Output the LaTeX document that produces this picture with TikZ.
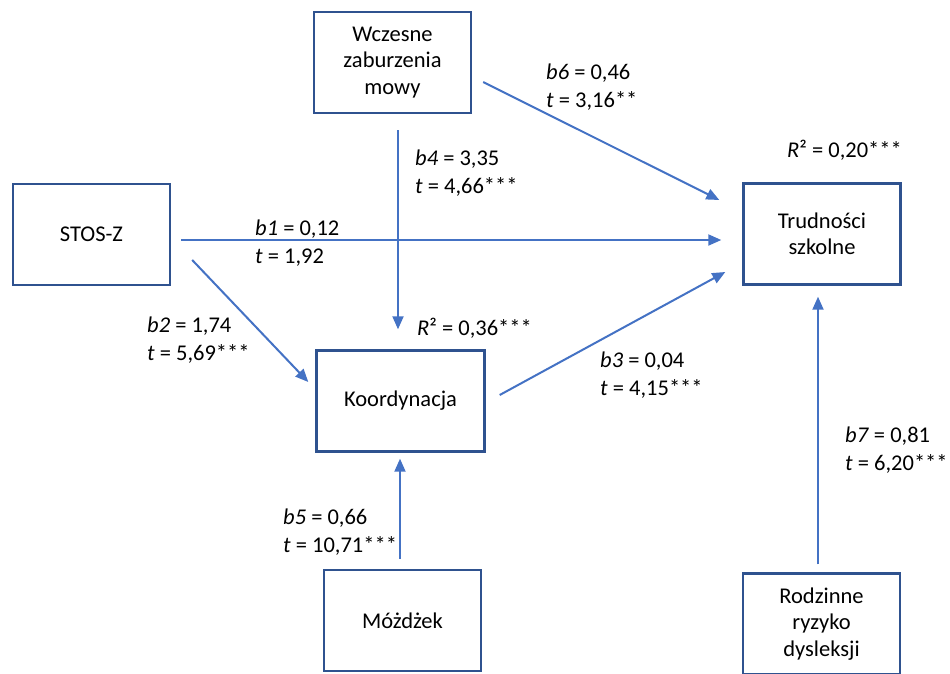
\documentclass[tikz,border=0pt]{standalone}
\usepackage{fontspec}
\setmainfont{Carlito}
\usetikzlibrary{positioning, arrows.meta, calc}
\definecolor{boxblue}{HTML}{2F528F}
\definecolor{arrblue}{HTML}{4472C4}

\begin{document}
\begin{tikzpicture}[x=1pt, y=-1pt,
          bx/.style={draw=boxblue, line width=2.4pt, minimum width=157pt,
                     minimum height=101pt, align=center, inner sep=2pt,
                     font=\fontsize{22.5}{26.5}\selectfont},
          lbl/.style={anchor=west, align=left, inner sep=0pt,
                      font=\fontsize{22.5}{27.5}\selectfont},
          arr/.style={-{Triangle[length=13pt, width=11pt]}, draw=arrblue,
                      line width=2pt}]
        \useasboundingbox (0,0) rectangle (950,673);
        \node[bx] (wcz)   at (392.5, 62.5) {Wczesne\\zaburzenia\\mowy};
        \node[bx] (stos)  at (91.5, 234.5) {STOS-Z};
        \node[bx] (trud)  at (822, 234) {Trudności\\szkolne};
        \node[bx, minimum width=168pt] (koord) at (400.5, 401) {Koordynacja};
        \node[bx] (mozd)  at (402.5, 620.5) {Móżdżek};
        \node[bx] (rodz)  at (821.5, 624) {Rodzinne\\ryzyko\\dysleksji};
        % paths
        \draw[arr] ($(wcz.east)+(11,19.5)$) -- ($(trud.west)+(-23,-34)$);
        \draw[arr] ($(wcz.south)+(5.5,16)$) -- ($(koord.north)+(-2.5,-20)$);
        \draw[arr] ($(stos.east)+(10,5.5)$) -- ($(trud.west)+(-21,6)$);
        \draw[arr] ($(stos.east)+(21,25.5)$) -- ($(koord.west)+(-7,-19)$);
        \draw[arr] ($(koord.east)+(14,-6)$) -- ($(trud.west)+(-17,38)$);
        \draw[arr] ($(mozd.north)+(-2.5,-10)$) -- ($(koord.south)+(-0.5,6)$);
        \draw[arr] ($(rodz.north)+(-3.5,-8)$) -- ($(trud.south)+(-4,11)$);
        % coefficients
        \node[lbl] (l6) at (546, 87) {\textit{b6} = 0,46\\\textit{t} = 3,16**};
        \node[lbl] (l4) at (415, 173) {\textit{b4} = 3,35\\\textit{t} = 4,66***};
        \node[lbl] (r1) at (787, 150) {\textit{R}² = 0,20***};
        \node[lbl] (l1) at (255, 243) {\textit{b1} = 0,12\\\textit{t} = 1,92};
        \node[lbl] (l2) at (147, 340) {\textit{b2} = 1,74\\\textit{t} = 5,69***};
        \node[lbl] (r2) at (417, 328) {\textit{R}² = 0,36***};
        \node[lbl] (l3) at (600, 375) {\textit{b3} = 0,04\\\textit{t} = 4,15***};
        \node[lbl] (l7) at (845, 450) {\textit{b7} = 0,81\\\textit{t} = 6,20***};
        \node[lbl] (l5) at (283, 532) {\textit{b5} = 0,66\\\textit{t} = 10,71***};
      \end{tikzpicture}
\end{document}
